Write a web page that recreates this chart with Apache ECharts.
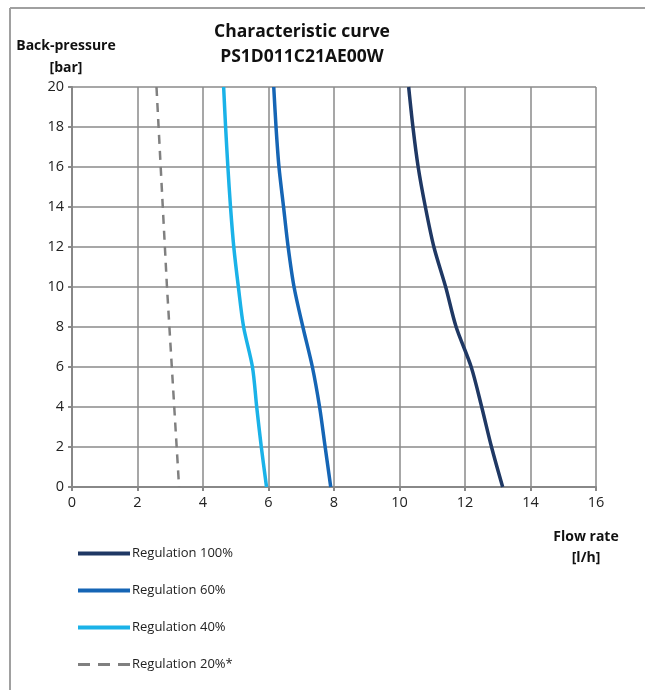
<!DOCTYPE html>
<html>
<head>
<meta charset="utf-8">
<script src="https://cdn.jsdelivr.net/npm/echarts@6/dist/echarts.min.js"></script>
<style>
html,body{margin:0;padding:0;background:#fff;}
#chart{width:645px;height:690px;}
</style>
</head>
<body>
<div id="chart"></div>
<script>
// Back-pressure levels [bar]
var pressure = [20, 18, 16, 14, 12, 10, 8, 6, 4, 2, 0];
// Flow rate [l/h] per regulation level, at each pressure above
var flow100 = [10.28, 10.41, 10.57, 10.79, 11.05, 11.41, 11.73, 12.19, 12.51, 12.81, 13.15];
var flow60  = [6.16, 6.23, 6.32, 6.46, 6.60, 6.78, 7.05, 7.34, 7.56, 7.73, 7.90];
var flow40  = [4.63, 4.69, 4.76, 4.84, 4.94, 5.08, 5.24, 5.51, 5.64, 5.78, 5.94];
var pressure20 = [20, 10, 0];
var flow20  = [2.58, 2.90, 3.27];
var seriesNames = ['Regulation 100%', 'Regulation 60%', 'Regulation 40%', 'Regulation 20%*'];

function pairs(xs, ys){ return xs.map(function(x,i){ return [x, ys[i]]; }); }

var font = '"Open Sans", "Liberation Sans", sans-serif';
var chart = echarts.init(document.getElementById('chart'), null, {renderer:'canvas'});
var colors = ['#1f3864', '#1565b5', '#1ab2e8', '#808080'];

chart.setOption({
  animation: false,
  backgroundColor: '#ffffff',
  textStyle: {fontFamily: font},
  graphic: [
    {type:'line', shape:{x1:10, y1:8, x2:645, y2:8}, style:{stroke:'#a0a0a0', lineWidth:2}},
    {type:'line', shape:{x1:10, y1:8, x2:10, y2:690}, style:{stroke:'#a0a0a0', lineWidth:2}},
    {type:'text', style:{text:'Characteristic curve\nPS1D011C21AE00W', x:302, y:20, textAlign:'center', fontFamily:font, fontWeight:'bold', fontSize:17.5, lineHeight:25, fill:'#111'}},
    {type:'text', style:{text:'Back-pressure\n[bar]', x:66, y:35, textAlign:'center', fontFamily:font, fontWeight:'bold', fontSize:14, lineHeight:22, fill:'#111'}},
    {type:'text', style:{text:'Flow rate\n[l/h]', x:586, y:527, textAlign:'center', fontFamily:font, fontWeight:'bold', fontSize:14, lineHeight:21, fill:'#111'}}
  ],
  legend: {
    orient: 'vertical',
    left: 73,
    top: 542,
    itemWidth: 52,
    itemHeight: 4,
    itemGap: 24,
    icon: 'rect',
    data: seriesNames.map(function(n,i){
      return i === 3 ? {name:n, icon:'path://M0,0 H12 V3 H0 Z M20,0 H32 V3 H20 Z M40,0 H52 V3 H40 Z'} : {name:n};
    }),
    textStyle: {fontFamily: font, fontSize: 13, color: '#222', padding:[0,0,0,-3]}
  },
  grid: {left:72, top:87, right:49, bottom:203, containLabel:false},
  xAxis: {
    type:'value', min:0, max:16, interval:2,
    axisLine:{show:true, onZero:false, lineStyle:{color:'#888', width:2}},
    axisTick:{show:true, length:4, lineStyle:{color:'#888', width:2}},
    axisLabel:{fontFamily:font, fontSize:14.5, color:'#222', margin:8},
    splitLine:{show:true, lineStyle:{color:'#8a8a8a', width:1.5}}
  },
  yAxis: {
    type:'value', min:0, max:20, interval:2,
    axisLine:{show:true, onZero:false, lineStyle:{color:'#888', width:2}},
    axisTick:{show:true, length:4, lineStyle:{color:'#888', width:2}},
    axisLabel:{fontFamily:font, fontSize:14.5, color:'#222', margin:8},
    splitLine:{show:true, lineStyle:{color:'#8a8a8a', width:1.5}}
  },
  series: [
    {name:seriesNames[0], type:'line', smooth:0.3, showSymbol:false, data:pairs(flow100, pressure), lineStyle:{color:colors[0], width:3.5}, itemStyle:{color:colors[0]}},
    {name:seriesNames[1], type:'line', smooth:0.3, showSymbol:false, data:pairs(flow60, pressure), lineStyle:{color:colors[1], width:3.5}, itemStyle:{color:colors[1]}},
    {name:seriesNames[2], type:'line', smooth:0.3, showSymbol:false, data:pairs(flow40, pressure), lineStyle:{color:colors[2], width:3.5}, itemStyle:{color:colors[2]}},
    {name:seriesNames[3], type:'line', smooth:false, showSymbol:false, data:pairs(flow20, pressure20), lineStyle:{color:colors[3], width:2.5, type:[9,7]}, itemStyle:{color:colors[3]}}
  ]
});
</script>
</body>
</html>
